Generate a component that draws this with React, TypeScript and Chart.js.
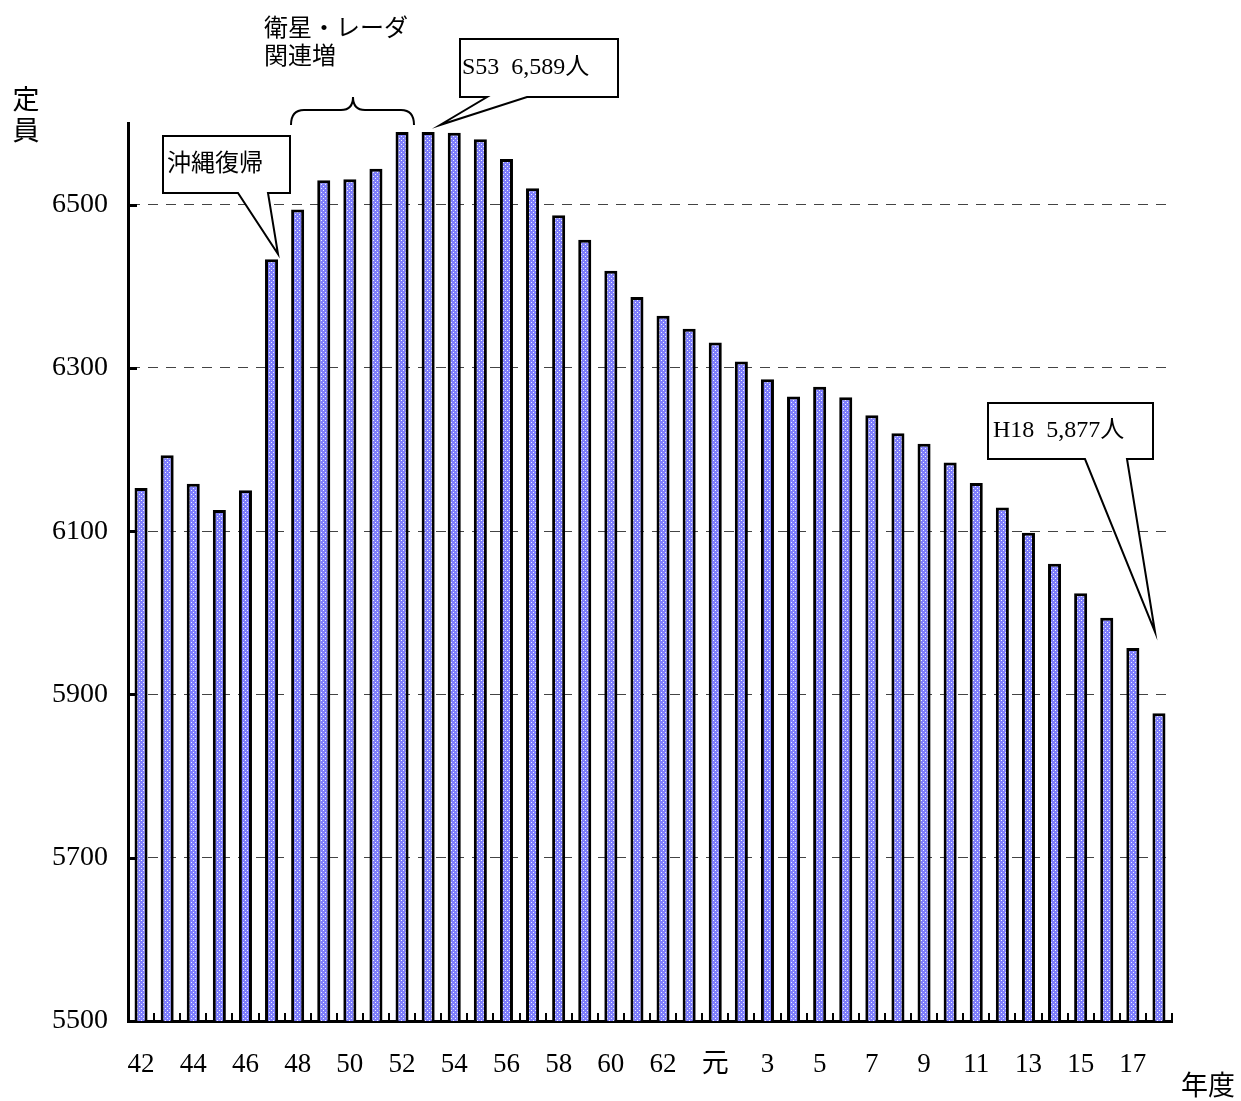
import React, { useEffect, useRef } from "react";
import { Chart, registerables } from "chart.js";

Chart.register(...registerables);

// 年度 (S42–S63, 元, H2–H18)
const categories: string[] = [
  "42", "43", "44", "45", "46", "47", "48", "49", "50", "51", "52",
  "53", "54", "55", "56", "57", "58", "59", "60", "61", "62", "63",
  "元", "2", "3", "4", "5", "6", "7", "8", "9", "10", "11", "12",
  "13", "14", "15", "16", "17", "18",
];

// 定員
const staffValues: number[] = [
  6153, 6193, 6158, 6126, 6150, 6433, 6494, 6530, 6531, 6544, 6589,
  6589, 6588, 6580, 6556, 6520, 6487, 6457, 6419, 6387, 6364, 6348,
  6331, 6308, 6286, 6265, 6277, 6264, 6242, 6220, 6207, 6184, 6159, 6129,
  6098, 6060, 6024, 5994, 5957, 5877,
];

const yTickValues: number[] = [5500, 5700, 5900, 6100, 6300, 6500];
const yMin = 5500;
const yMax = 6600;

const SERIF = '"Liberation Serif", "DejaVu Serif", "Noto Sans CJK JP", serif';
const JP = '"Liberation Serif", "Noto Sans CJK JP", serif';

function makePattern(): CanvasPattern | string {
  const c = document.createElement("canvas");
  c.width = 4;
  c.height = 4;
  const g = c.getContext("2d");
  if (!g) return "#8282ff";
  g.fillStyle = "#7e7efc";
  g.fillRect(0, 0, 4, 4);
  g.fillStyle = "#eeeeff";
  g.fillRect(1, 0, 1, 1);
  g.fillRect(3, 2, 1, 1);
  const p = g.createPattern(c, "repeat");
  return p || "#8282ff";
}

function callout(
  ctx: CanvasRenderingContext2D,
  l: number, t: number, r: number, b: number,
  b1: number, b2: number, tipX: number, tipY: number,
  text: string, tx: number, ty: number
) {
  ctx.save();
  ctx.beginPath();
  ctx.moveTo(l, t);
  ctx.lineTo(r, t);
  ctx.lineTo(r, b);
  ctx.lineTo(b2, b);
  ctx.lineTo(tipX, tipY);
  ctx.lineTo(b1, b);
  ctx.lineTo(l, b);
  ctx.closePath();
  ctx.fillStyle = "#fff";
  ctx.fill();
  ctx.strokeStyle = "#000";
  ctx.lineWidth = 2;
  ctx.lineJoin = "miter";
  ctx.stroke();
  ctx.fillStyle = "#000";
  ctx.font = `24px ${JP}`;
  ctx.textAlign = "left";
  ctx.textBaseline = "middle";
  ctx.fillText(text, tx, ty);
  ctx.restore();
}

const decorPlugin = {
  id: "decor",
  afterDraw(chart: any) {
    const ctx: CanvasRenderingContext2D = chart.ctx;
    const { left, right, bottom } = chart.chartArea;
    const yScale = chart.scales.y;
    ctx.save();
    ctx.strokeStyle = "#000";
    // inward y ticks
    ctx.lineWidth = 3;
    for (const v of yTickValues) {
      if (v === yMin) continue;
      const py = Math.round(yScale.getPixelForValue(v)) + 0.5;
      ctx.beginPath();
      ctx.moveTo(left, py);
      ctx.lineTo(left + 9, py);
      ctx.stroke();
    }
    // x ticks at category boundaries (pointing up)
    ctx.lineWidth = 2;
    const n = categories.length;
    const w = (right - left) / n;
    for (let i = 1; i <= n; i++) {
      const px = Math.round(left + i * w);
      ctx.beginPath();
      ctx.moveTo(px, bottom);
      ctx.lineTo(px, bottom - 8);
      ctx.stroke();
    }

    // axis titles
    ctx.fillStyle = "#000";
    ctx.font = `27px ${JP}`;
    ctx.textAlign = "center";
    ctx.textBaseline = "middle";
    ctx.fillText("定", 26, 102);
    ctx.fillText("員", 26, 133);
    ctx.textAlign = "left";
    ctx.fillText("年度", 1181, 1088);

    // brace + label
    ctx.lineWidth = 2;
    ctx.beginPath();
    ctx.moveTo(291, 125);
    ctx.quadraticCurveTo(291, 110, 304, 110);
    ctx.lineTo(341, 110);
    ctx.quadraticCurveTo(353, 110, 353, 97);
    ctx.quadraticCurveTo(353, 110, 365, 110);
    ctx.lineTo(401, 110);
    ctx.quadraticCurveTo(414, 110, 414, 125);
    ctx.stroke();
    ctx.font = `24px ${JP}`;
    ctx.textAlign = "left";
    ctx.fillText("衛星・レーダ", 264, 30);
    ctx.fillText("関連増", 264, 58);
    ctx.restore();

    callout(ctx, 163, 136, 290, 193, 238, 268, 278, 254, "沖縄復帰", 167, 165);
    callout(ctx, 460, 39, 618, 97, 487, 527, 440, 125, "S53  6,589人", 462, 68);
    callout(ctx, 988, 403, 1153, 459, 1085, 1127, 1155, 632, "H18  5,877人", 993, 431);
  },
};

export default function App() {
  const canvasRef = useRef<HTMLCanvasElement | null>(null);

  useEffect(() => {
    const canvas = canvasRef.current;
    if (!canvas) return;
    const pattern = makePattern();
    const chart = new Chart(canvas, {
      type: "bar",
      data: {
        labels: categories,
        datasets: [
          {
            data: staffValues,
            backgroundColor: pattern as any,
            borderColor: "#000",
            borderWidth: 3,
            borderSkipped: "start",
            barPercentage: 0.5,
            categoryPercentage: 1.0,
          },
        ],
      },
      options: {
        animation: false,
        responsive: false,
        devicePixelRatio: 1,
        layout: { padding: { top: 123, right: 69, left: 0, bottom: 0 } },
        plugins: {
          legend: { display: false },
          tooltip: { enabled: false },
        },
        scales: {
          x: {
            type: "category",
            offset: true,
            grid: { display: true, drawOnChartArea: false, drawTicks: false },
            border: { display: true, color: "#000", width: 3 },
            ticks: {
              autoSkip: false,
              maxRotation: 0,
              minRotation: 0,
              padding: 28,
              color: "#000",
              font: { family: SERIF, size: 27 },
              callback: (_v: any, i: number) => (i % 2 === 0 ? categories[i] : ""),
            },
            afterFit: (s: any) => {
              s.height = 80;
            },
          },
          y: {
            type: "linear",
            min: yMin,
            max: yMax,
            afterBuildTicks: (s: any) => {
              s.ticks = yTickValues.map((v) => ({ value: v }));
            },
            grid: {
              drawTicks: false,
              lineWidth: 1,
              color: (c: any) =>
                c.tick && c.tick.value > yMin ? "#444" : "rgba(0,0,0,0)",
            },
            border: { display: true, color: "#000", width: 3, dash: [10, 8] },
            ticks: {
              padding: 20,
              color: "#000",
              font: { family: SERIF, size: 28 },
              callback: (v: any) => String(v),
            },
            afterFit: (s: any) => {
              s.width = 128;
            },
          },
        },
      },
      plugins: [decorPlugin],
    });
    return () => chart.destroy();
  }, []);

  return (
    <div style={{ position: "absolute", left: 0, top: 0, width: 1241, height: 1101, background: "#fff" }}>
      <canvas ref={canvasRef} width={1241} height={1101} style={{ display: "block" }} />
    </div>
  );
}
